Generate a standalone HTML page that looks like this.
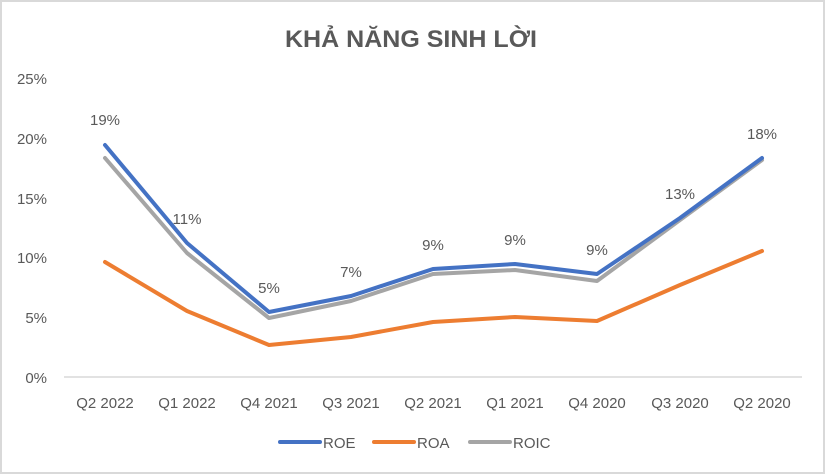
<!DOCTYPE html>
<html><head><meta charset="utf-8"><style>
html,body{margin:0;padding:0;background:#fff}
svg{display:block}
text{font-family:"Liberation Sans",sans-serif;fill:#595959}
</style></head><body>
<svg width="825" height="474" viewBox="0 0 825 474" xmlns="http://www.w3.org/2000/svg">
<rect x="1" y="1" width="823" height="472" fill="#fff" stroke="#d9d9d9" stroke-width="2"/>
<text x="411" y="47" text-anchor="middle" font-size="24" font-weight="bold" textLength="252" lengthAdjust="spacingAndGlyphs" style="fill:#595959">KHẢ NĂNG SINH LỜI</text>
<g font-size="15" text-anchor="end">
<text x="47" y="383">0%</text>
<text x="47" y="323">5%</text>
<text x="47" y="263">10%</text>
<text x="47" y="204">15%</text>
<text x="47" y="144">20%</text>
<text x="47" y="84">25%</text>
</g>
<line x1="64" y1="377" x2="802" y2="377" stroke="#d9d9d9" stroke-width="1.5"/>
<g font-size="15" text-anchor="middle">
<text x="105" y="408">Q2 2022</text>
<text x="187" y="408">Q1 2022</text>
<text x="269" y="408">Q4 2021</text>
<text x="351" y="408">Q3 2021</text>
<text x="433" y="408">Q2 2021</text>
<text x="515" y="408">Q1 2021</text>
<text x="597" y="408">Q4 2020</text>
<text x="680" y="408">Q3 2020</text>
<text x="762" y="408">Q2 2020</text>
</g>
<g fill="none" stroke-width="4" stroke-linejoin="round" stroke-linecap="round">
<polyline stroke="#ed7d31" points="105,262 187,311 269,345 351,337 433,322 515,317 597,321 680,285 762,251"/>
<polyline stroke="#a5a5a5" points="105,158 187,253 269,318 351,301 433,274 515,270 597,281 680,220 762,160"/>
<polyline stroke="#4472c4" points="105,145 187,243 269,312 351,296 433,269 515,264 597,274 680,218 762,158"/>
</g>
<g font-size="15" text-anchor="middle" style="fill:#404040">
<text x="105" y="125">19%</text>
<text x="187" y="224">11%</text>
<text x="269" y="293">5%</text>
<text x="351" y="277">7%</text>
<text x="433" y="250">9%</text>
<text x="515" y="245">9%</text>
<text x="597" y="255">9%</text>
<text x="680" y="199">13%</text>
<text x="762" y="139">18%</text>
</g>
<g stroke-width="4" stroke-linecap="round">
<line x1="280" y1="442" x2="320" y2="442" stroke="#4472c4"/>
<line x1="374" y1="442" x2="414" y2="442" stroke="#ed7d31"/>
<line x1="470" y1="442" x2="510" y2="442" stroke="#a5a5a5"/>
</g>
<g font-size="15">
<text x="323" y="448">ROE</text>
<text x="417" y="448">ROA</text>
<text x="513" y="448">ROIC</text>
</g>
</svg>
</body></html>
